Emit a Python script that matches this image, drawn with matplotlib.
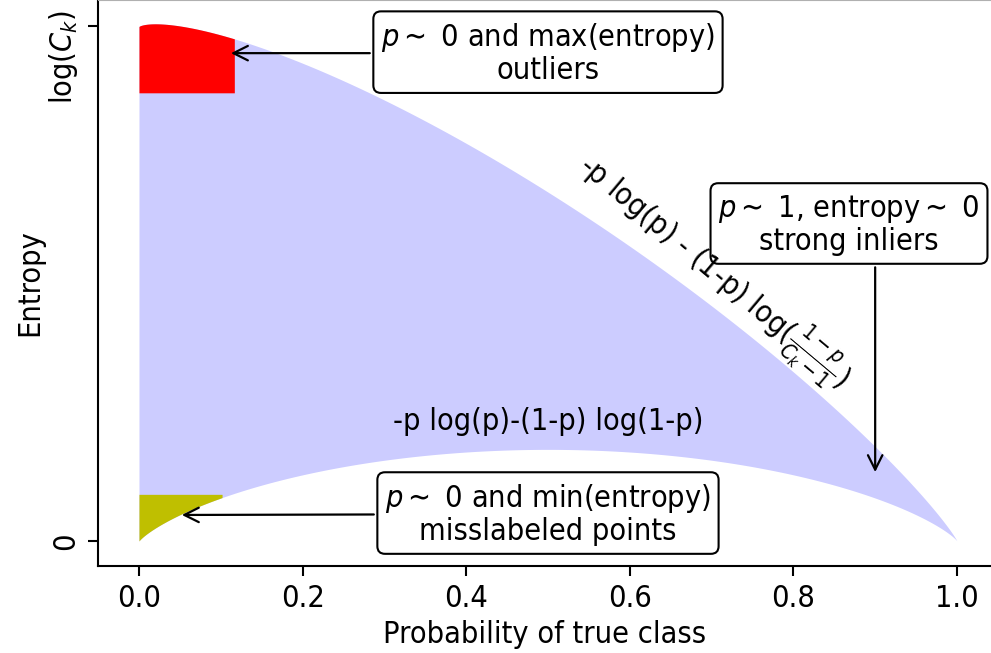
import numpy as np
from matplotlib import pyplot as plt
from matplotlib import transforms as mtransforms

plt.rcParams['font.family'] = 'DejaVu Sans'
plt.rcParams['font.stretch'] = 'condensed'
plt.rcParams['mathtext.fontset'] = 'dejavusans'

# number of classes (peak log(Ck), binary max log 2)
n_classes = 50
p = np.linspace(1e-6, 1 - 1e-6, 2000)

# highlighted corners
outlier_p_max = 0.117
outlier_entropy_min = 3.39
mislabel_p_max = 0.102
mislabel_entropy_max = 0.353

xtick_values = [0.0, 0.2, 0.4, 0.6, 0.8, 1.0]
ytick_values = [0, np.log(n_classes - 1)]
ytick_labels = ['0', r'log($C_k$)']

# annotations: text, arrow target, text position
notes = [
    (r'$p\sim$ 0 and max(entropy)' + '\noutliers', (0.109, 3.69), (0.5, 3.69)),
    (r'$p\sim$ 0 and min(entropy)' + '\nmisslabeled points', (0.049, 0.197), (0.5, 0.204)),
    (r'$p\sim$ 1, entropy$\sim$ 0' + '\nstrong inliers', (0.9, 0.50), (0.868, 2.394)),
]

def lower_entropy(p):
    return -p*np.log(p) - (1-p)*np.log(1-p)

def upper_entropy(p):
    return -p*np.log(p) - (1-p)*np.log((1-p)/(n_classes-1))

lo = lower_entropy(p)
hi = upper_entropy(p)

fs = 22

fig = plt.figure(figsize=(9.91, 6.53), dpi=100)
ax = fig.add_axes([98/991, 87/653, 893/991, 566/653])

ax.fill_between(p, lo, hi, color='b', alpha=0.2, lw=0)
m = p <= outlier_p_max
ax.fill_between(p[m], outlier_entropy_min, hi[m], color='r', lw=0)
m = p <= mislabel_p_max
ax.fill_between(p[m], lo[m], mislabel_entropy_max, color='y', lw=0)

box = dict(boxstyle='round,pad=0.25', fc='w', ec='k', lw=1.5)
for i, (txt, xy, xyt) in enumerate(notes):
    arrow = dict(arrowstyle='->', lw=1.6, color='k', mutation_scale=26)
    if i == 2:
        arrow['relpos'] = (0.6, 0.0)
    ax.annotate(txt, xy=xy, xytext=xyt, ha='center', va='center',
                fontsize=fs, linespacing=1.1, bbox=box, arrowprops=arrow)

ax.text(0.702, 2.03, r'-p log(p) - (1-p) log($\frac{1-p}{C_k-1}$)',
        rotation=-40, ha='center', va='center', fontsize=fs)
ax.text(0.5, 0.905, '-p log(p)-(1-p) log(1-p)', ha='center', va='center', fontsize=fs)

ax.set_xlim(-0.0501, 1.0416)
ax.set_ylim(-0.189, 4.092)
ax.set_xticks(xtick_values)
ax.set_yticks(ytick_values)
ax.tick_params(labelsize=fs, length=7, width=1.5, pad=6)
ax.set_yticklabels(ytick_labels, rotation=90, va='center')
# push the rotated log(Ck) label down so it stays inside the figure
top_lbl = ax.yaxis.get_major_ticks()[1].label1
top_lbl.set_transform(top_lbl.get_transform()
                      + mtransforms.ScaledTranslation(0, -0.31, fig.dpi_scale_trans))
ax.set_xlabel('Probability of true class', fontsize=fs, labelpad=5)
ax.set_ylabel('Entropy', fontsize=fs, labelpad=2)

ax.spines['right'].set_visible(False)
ax.spines['top'].set_color('#b0b0b0')
ax.spines['left'].set_linewidth(1.5)
ax.spines['bottom'].set_linewidth(1.5)

fig.savefig('out.png', dpi=100)
